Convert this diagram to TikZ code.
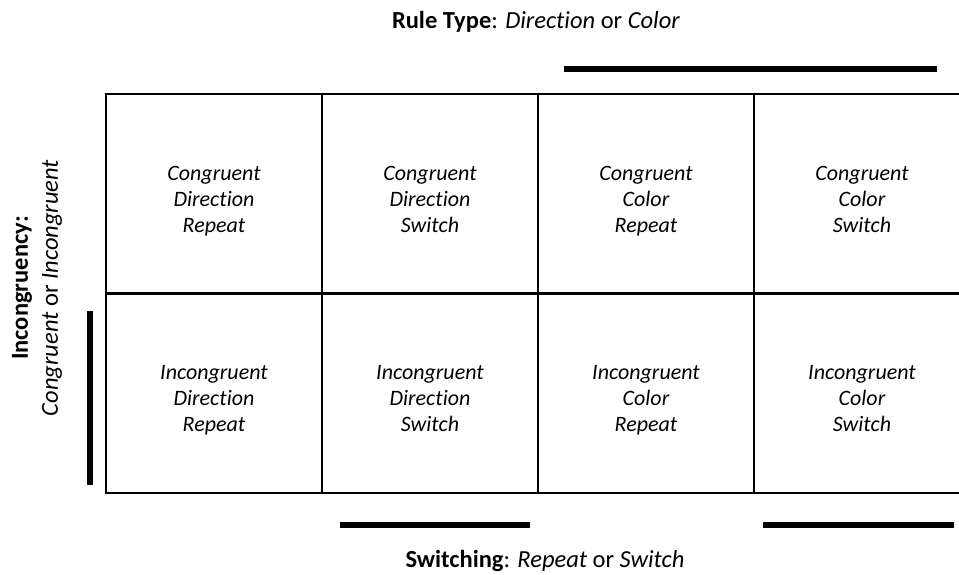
\documentclass[tikz,border=0pt]{standalone}
\usepackage{fontspec}
\setmainfont{Carlito}[Ligatures=NoCommon]
\tikzset{
  every picture/.style={line width=2pt},
  cell/.style={draw, minimum width=216pt, minimum height=200pt, align=center, font=\fontsize{22}{26}\selectfont\itshape},
  bar/.style={line width=6pt},
  heading/.style={font=\fontsize{24.5}{30}\selectfont, align=center},
}
\begin{document}
\begin{tikzpicture}[x=1pt, y=-1pt]
  \useasboundingbox (0,0) rectangle (959,574);
  \clip (0,0) rectangle (959,574);
  % factor labels
  \node[heading] (ruletype) at (536,22) {\textbf{Rule Type}: \textit{Direction} or \textit{Color}};
  \node[heading] (switching) at (545,561) {\textbf{Switching}: \textit{Repeat} or \textit{Switch}};
  \node[heading, rotate=90] (incong) at (37,288) {\textbf{Incongruency:}\\\textit{Congruent} or \textit{Incongruent}};
  % design cells
  \foreach \r/\y/\con in {1/194/Congruent, 2/393/Incongruent}
    \foreach \c/\x/\kind/\sw in {1/214/Direction/Repeat, 2/430/Direction/Switch, 3/646/Color/Repeat, 4/862/Color/Switch}
      \node[cell] (c\r\c) at (\x,\y) {\rule{0pt}{32pt}\con\\\kind\\\sw\strut};
  % level bars
  \draw[bar] (564,69) -- (937,69);
  \draw[bar] (340,525) -- (530,525);
  \draw[bar] (763,525) -- (954,525);
  \draw[bar] (90,311) -- (90,485);
\end{tikzpicture}
\end{document}
